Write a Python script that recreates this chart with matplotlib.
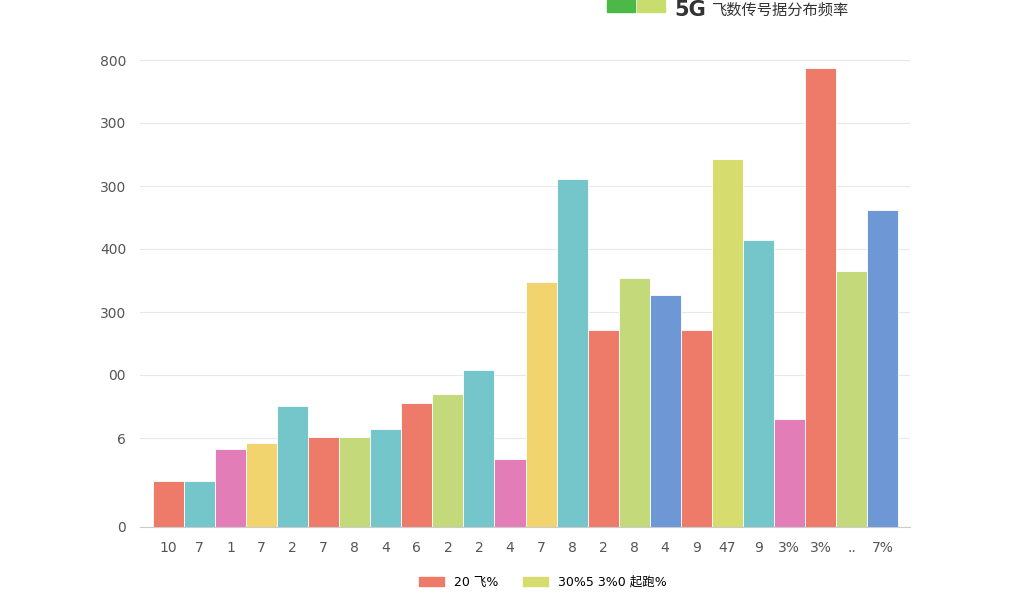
import matplotlib
matplotlib.use("Agg")
import matplotlib.pyplot as plt
from matplotlib.patches import Patch, Rectangle

plt.rcParams['font.family'] = ['DejaVu Sans', 'Noto Sans CJK SC']

labels = ['10','7','1','7','2','7','8','4','6','2','2','4','7','8','2','8','4','9','47','9','3%','3%','..','7%']
values = [46,46,78,84,121,90,90,98,124,133,157,68,245,348,197,249,232,197,368,287,108,459,256,317]
R,T,P,Y,G,B,YG = '#EE7B6A','#74C6CA','#E37DB7','#F2D46E','#C3D97A','#6E97D6','#D6DC6E'
colors = [R,T,P,Y,T,R,G,T,R,G,T,P,Y,T,R,G,B,R,YG,T,P,R,G,B]
ytick_pos = [0,89,152,215,278,341,404,467]
ytick_labels = ['0','6','00','300','400','300','300','800']

fig = plt.figure(figsize=(10.24,6), dpi=100)
ax = fig.add_axes([140/1024, 73/600, 770/1024, 487/600])
x = range(len(values))
ax.bar(x, values, width=1.0, color=colors, edgecolor='white', linewidth=0.6, zorder=2)
ax.set_xlim(-0.5-13/31, 23.5+12/31)
ax.set_ylim(0, 487)
ax.set_xticks(list(x))
ax.set_xticklabels(labels, fontsize=10, color='#555')
ax.set_yticks(ytick_pos)
ax.set_yticklabels(ytick_labels, fontsize=10, color='#555')
ax.grid(axis='y', color='#e8e8e8', zorder=0)
for s in ['top','right','left']:
    ax.spines[s].set_visible(False)
ax.spines['bottom'].set_color('#cccccc')
ax.tick_params(length=0, pad=10)

fig.legend(handles=[Patch(color=R, label='20 飞%'), Patch(color=YG, label='30%5 3%0 起跑%')],
           loc='lower center', bbox_to_anchor=(0.53, 0.0), ncol=2, frameon=False, fontsize=9)
fig.patches.append(Rectangle((607/1024, 588/600), 28/1024, 12/600, color='#4CB848', transform=fig.transFigure))
fig.patches.append(Rectangle((637/1024, 588/600), 28/1024, 12/600, color='#C9DC6E', transform=fig.transFigure))
fig.text(674/1024, 590/600, '5G', fontsize=15, fontweight='bold', color='#333', va='center')
fig.text(712/1024, 590/600, '飞数传号据分布频率', fontsize=11, color='#333', va='center')
fig.savefig('out.png')
